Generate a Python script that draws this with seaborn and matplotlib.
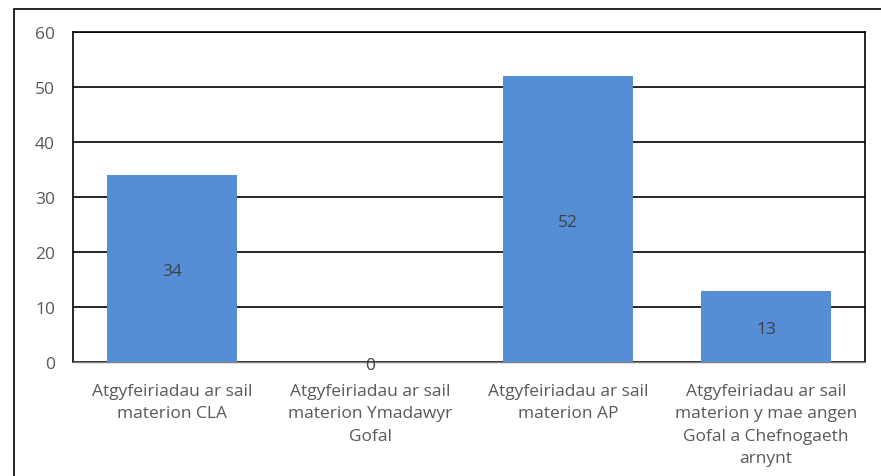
import matplotlib
matplotlib.use("Agg")
import matplotlib.pyplot as plt
import seaborn as sns
import pandas as pd
from matplotlib.patches import Rectangle

categories = [
    "Atgyfeiriadau ar sail\nmaterion CLA",
    "Atgyfeiriadau ar sail\nmaterion Ymadawyr\nGofal",
    "Atgyfeiriadau ar sail\nmaterion AP",
    "Atgyfeiriadau ar sail\nmaterion y mae angen\nGofal a Chefnogaeth\narnynt",
]
values = [34, 0, 52, 13]
yticks = [0, 10, 20, 30, 40, 50, 60]

sns.set_theme(style="white")
plt.rcParams["font.family"] = ["Open Sans", "DejaVu Sans"]

df = pd.DataFrame({"cat": categories, "val": values})

fig = plt.figure(figsize=(8.81, 4.77), dpi=100)
ax = fig.add_axes([73 / 881, 1 - 363 / 477, (865 - 73) / 881, (363 - 33) / 477])

sns.barplot(data=df, x="cat", y="val", color="#558ED5", width=0.66,
            saturation=1, linewidth=0, ax=ax, zorder=3)

ax.set_ylim(0, 60)
ax.set_yticks(yticks)
ax.yaxis.grid(True, color="black", linewidth=1.2, zorder=0)
ax.set_xlabel("")
ax.set_ylabel("")
ax.tick_params(axis="both", length=0, labelsize=12.5, colors="#595959")
ax.tick_params(axis="x", pad=15)
ax.tick_params(axis="y", pad=13)
for lbl in ax.get_xticklabels():
    lbl.set_linespacing(1.53)

for side in ["left", "top", "right"]:
    ax.spines[side].set_color("black")
    ax.spines[side].set_linewidth(1.2)
ax.spines["bottom"].set_color("#808080")
ax.spines["bottom"].set_linewidth(1.0)

for i, v in enumerate(values):
    ax.annotate(str(v), (i, v / 2), xytext=(0, -2), textcoords="offset points",
                ha="center", va="center", fontsize=12.5, color="#404040",
                zorder=4)

# outer chart frame
fig.patches.append(Rectangle((14 / 881, -0.1), 1.2, 1 - 10 / 477 + 0.1,
                             transform=fig.transFigure, fill=False,
                             edgecolor="black", linewidth=1.2))

fig.savefig("out.png", dpi=100)
